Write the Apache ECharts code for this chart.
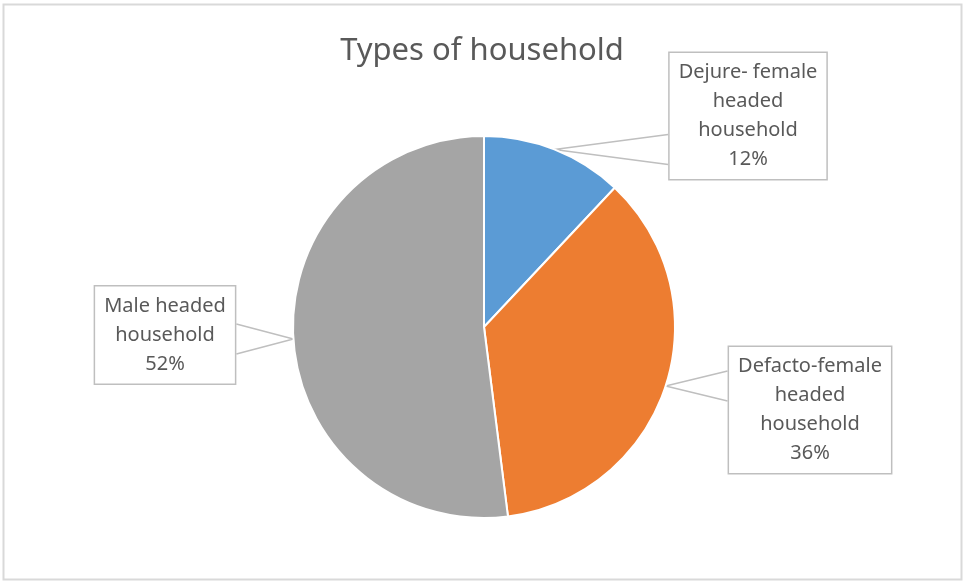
<!DOCTYPE html>
<html>
<head>
<meta charset="utf-8">
<script src="https://cdn.jsdelivr.net/npm/echarts@6/dist/echarts.min.js"></script>
<style>
  html, body { margin: 0; padding: 0; background: #fff; }
  #chart { width: 964px; height: 583px; }
</style>
</head>
<body>
<div id="chart"></div>
<script>
const categories = ['Dejure- female\nheaded\nhousehold', 'Defacto-female\nheaded\nhousehold', 'Male headed\nhousehold'];
const shares = [12, 36, 52];
const colors = ['#5B9BD5', '#ED7D31', '#A5A5A5'];

// where each callout box sits (box centre, px)
const boxCentres = [[748, 116], [810, 410], [165, 335]];

const chart = echarts.init(document.getElementById('chart'));

chart.setOption({
  animation: false,
  title: {
    text: 'Types of household',
    left: 'center',
    top: 31,
    textStyle: {
      fontFamily: 'Noto Sans',
      fontSize: 31,
      fontWeight: 'normal',
      color: '#595959'
    }
  },
  graphic: [{
    type: 'rect',
    shape: { x: 3.5, y: 4.5, width: 958, height: 575 },
    style: { fill: 'none', stroke: '#d9d9d9', lineWidth: 2 },
    silent: true
  }],
  series: [{
    type: 'pie',
    center: [484, 327],
    radius: 191,
    startAngle: 90,
    clockwise: true,
    data: categories.map((c, i) => ({
      name: c,
      value: shares[i],
      itemStyle: { color: colors[i] }
    })),
    itemStyle: { borderColor: '#fff', borderWidth: 2 },
    label: {
      show: true,
      position: 'outside',
      formatter: p => p.name + '\n' + Math.round(p.percent) + '%',
      fontFamily: 'Noto Sans',
      fontSize: 20,
      lineHeight: 29,
      color: '#595959',
      align: 'center',
      backgroundColor: '#fff',
      borderColor: '#bfbfbf',
      borderWidth: 1.5,
      padding: [5, 9, 5, 9]
    },
    labelLine: {
      show: true,
      length: 20,
      length2: 10,
      lineStyle: { color: '#bfbfbf', width: 1.5 }
    },
    labelLayout: function (params) {
      const c = boxCentres[params.dataIndex];
      const w = params.labelRect.width;
      const h = params.labelRect.height;
      const out = { x: c[0], y: c[1], align: 'center', verticalAlign: 'middle' };
      if (params.labelLinePoints) {
        // callout wedge: box edge -> slice -> box edge
        const tip = params.labelLinePoints[0];
        const edgeX = c[0] > tip[0] ? c[0] - w / 2 : c[0] + w / 2;
        const mid = Math.min(Math.max(tip[1], c[1] - h / 2 + 20), c[1] + h / 2 - 20);
        out.labelLinePoints = [[edgeX, mid - 15], tip, [edgeX, mid + 15]];
      }
      return out;
    },
    emphasis: { disabled: true }
  }]
});
</script>
</body>
</html>
